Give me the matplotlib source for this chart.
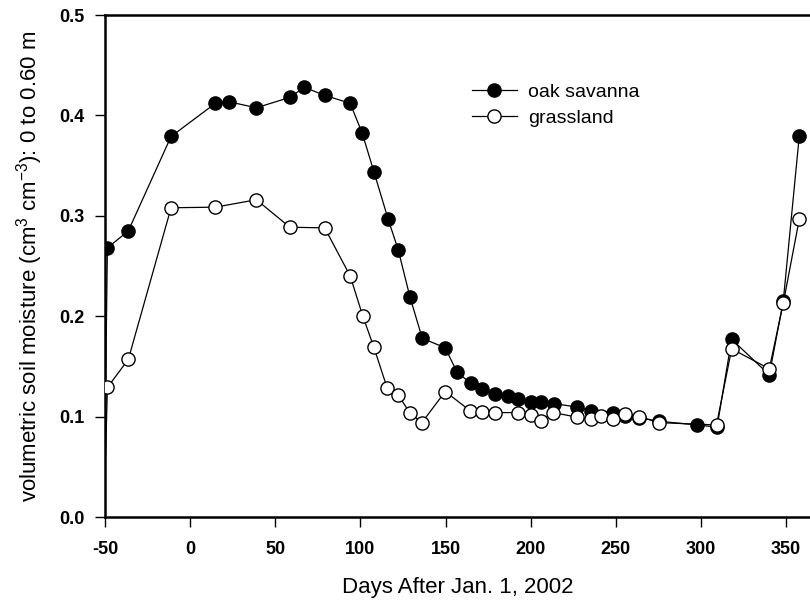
import matplotlib
matplotlib.use("Agg")
import matplotlib.pyplot as plt

oak_days = [-50.6, -48.6, -36.3, -11.2, 14.8, 23.0, 38.9, 58.6, 67.0, 79.0, 94.0,
            101.1, 107.9, 116.2, 122.2, 129.1, 136.3, 149.8, 156.8, 165.0, 171.1,
            179.0, 186.4, 192.7, 200.2, 206.0, 213.9, 227.3, 235.4, 248.1, 255.3,
            263.4, 275.4, 297.4, 309.4, 318.0, 340.1, 348.3, 357.7]
oak_vals = [0.0, 0.268, 0.285, 0.379, 0.412, 0.4135, 0.4076, 0.418, 0.428, 0.420, 0.412,
            0.382, 0.344, 0.297, 0.266, 0.219, 0.178, 0.1685, 0.144, 0.133, 0.127,
            0.123, 0.1206, 0.118, 0.115, 0.115, 0.113, 0.1094, 0.106, 0.104, 0.101,
            0.099, 0.0954, 0.0917, 0.0895, 0.177, 0.1416, 0.215, 0.3795]

grass_days = [-50.6, -48.6, -36.3, -11.2, 14.8, 38.9, 58.6, 79.0, 94.0, 101.3, 107.9,
              115.8, 121.9, 129.2, 136.1, 149.8, 164.3, 171.5, 179.0, 192.7, 200.2,
              206.0, 213.2, 227.3, 235.4, 241.1, 248.1, 255.3, 263.6, 275.3, 309.1,
              318.0, 340.1, 348.3, 357.7]
grass_vals = [0.0, 0.129, 0.157, 0.308, 0.3086, 0.316, 0.2886, 0.288, 0.240, 0.2006, 0.169,
              0.128, 0.122, 0.1034, 0.094, 0.125, 0.106, 0.105, 0.104, 0.104, 0.1017,
              0.096, 0.104, 0.0994, 0.0977, 0.1007, 0.0977, 0.1027, 0.100, 0.094, 0.0917,
              0.1675, 0.1476, 0.213, 0.2966]

xticks = [-50, 0, 50, 100, 150, 200, 250, 300, 350]
yticks = [0.0, 0.1, 0.2, 0.3, 0.4, 0.5]
ytick_labels = ["0.0", "0.1", "0.2", "0.3", "0.4", "0.5"]

plt.rcParams['font.family'] = ['Liberation Sans', 'DejaVu Sans']
plt.rcParams['mathtext.fontset'] = 'custom'
plt.rcParams['mathtext.rm'] = 'Liberation Sans'

fig = plt.figure(figsize=(8.1, 6.03), dpi=100)
ax = fig.add_axes([105/810, 86/603, 705/810, 502/603])

ax.plot(oak_days, oak_vals, color='black', lw=0.9, marker='o', ms=9.5,
        mfc='black', mec='black', mew=1.0, label='oak savanna', zorder=3,
        markevery=list(range(1, len(oak_days))))
ax.plot(grass_days, grass_vals, color='black', lw=0.9, marker='o', ms=9.5,
        mfc='white', mec='black', mew=1.0, label='grassland', zorder=4,
        markevery=list(range(1, len(grass_days))))

ax.set_xlim(-50, 364)
ax.set_ylim(0, 0.5)
ax.set_xticks(xticks)
ax.set_xticklabels([str(t) for t in xticks], fontweight='bold', fontsize=13)
ax.set_yticks(yticks)
ax.set_yticklabels(ytick_labels, fontweight='bold', fontsize=13)
ax.tick_params(axis='both', direction='out', length=7, width=1.0)
ax.tick_params(axis='x', pad=10)
ax.tick_params(axis='y', pad=8)

for s in ['left', 'bottom', 'top']:
    ax.spines[s].set_linewidth(1.8)
ax.spines['right'].set_visible(False)

ax.set_xlabel('Days After Jan. 1, 2002', fontsize=16, labelpad=14)
ax.set_ylabel('volumetric soil moisture (cm$^3$ cm$^{-3}$): 0 to 0.60 m', fontsize=16, labelpad=10)

leg = ax.legend(loc='upper left', bbox_to_anchor=(0.5095, 0.88), frameon=False,
                fontsize=14, handlelength=2.3, handletextpad=0.6, labelspacing=0.45,
                borderaxespad=0)

fig.savefig('out.png', dpi=100)
